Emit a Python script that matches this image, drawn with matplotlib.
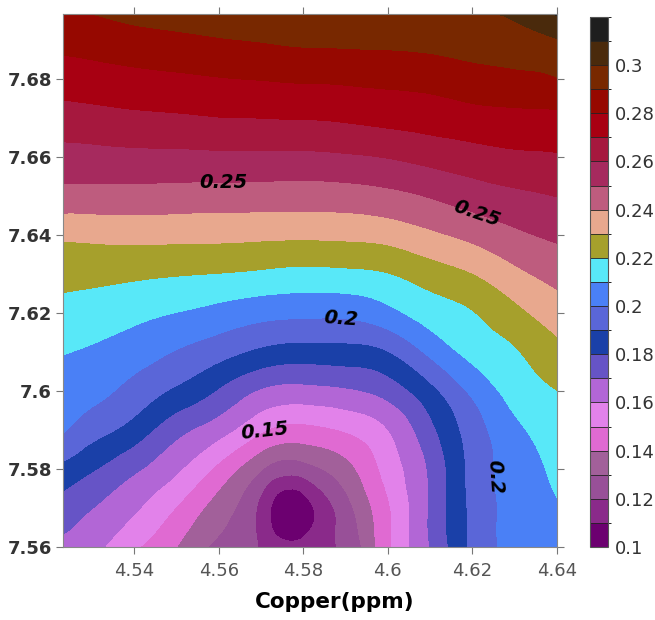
import matplotlib

matplotlib.use("Agg")
import matplotlib.pyplot as plt
import matplotlib.tri as mtri
import numpy as np
from matplotlib.colors import BoundaryNorm, ListedColormap
from matplotlib.ticker import FormatStrFormatter

#################################################
#            Data        #
#################################################

copper = [4.5232, 4.53, 4.54, 4.55, 4.56, 4.57, 4.58, 4.59, 4.60, 4.61, 4.62, 4.63, 4.64]
second = [7.56, 7.57, 7.58, 7.59, 7.60, 7.61, 7.62, 7.63, 7.64, 7.65, 7.66, 7.67, 7.68, 7.69, 7.6967]

# one row per value of `second` (bottom to top), one column per copper value
response = [
    [0.167, 0.163, 0.1516, 0.140, 0.1275, 0.119, 0.115, 0.122, 0.148, 0.170, 0.192, 0.2025, 0.205],
    [0.1758, 0.1702, 0.1615, 0.1495, 0.1352, 0.117, 0.1045, 0.1259, 0.1486, 0.171, 0.1923, 0.2032, 0.209],
    [0.187, 0.181, 0.1717, 0.1616, 0.1473, 0.1306, 0.1254, 0.1363, 0.1537, 0.1715, 0.1931, 0.2039, 0.2126],
    [0.2009, 0.1941, 0.1856, 0.1732, 0.1641, 0.1515, 0.1468, 0.1508, 0.1598, 0.1771, 0.1947, 0.2075, 0.2163],
    [0.2056, 0.203, 0.1964, 0.1881, 0.179, 0.1688, 0.1665, 0.1685, 0.174, 0.1868, 0.2021, 0.2138, 0.2199],
    [0.2105, 0.2088, 0.2047, 0.1994, 0.1938, 0.1878, 0.1855, 0.1861, 0.1896, 0.2023, 0.2129, 0.2191, 0.2269],
    [0.2165, 0.2153, 0.2127, 0.2098, 0.2066, 0.2033, 0.2021, 0.2023, 0.2069, 0.2145, 0.2195, 0.2271, 0.2349],
    [0.2232, 0.2227, 0.2217, 0.2206, 0.2197, 0.2183, 0.217, 0.2176, 0.2196, 0.2248, 0.2297, 0.2374, 0.2434],
    [0.232, 0.2325, 0.2331, 0.2328, 0.2326, 0.232, 0.2317, 0.2321, 0.2337, 0.2381, 0.2427, 0.2481, 0.2517],
    [0.2463, 0.2462, 0.2461, 0.2457, 0.2455, 0.2452, 0.245, 0.2455, 0.2473, 0.2506, 0.2547, 0.2578, 0.2602],
    [0.2565, 0.2568, 0.2574, 0.2575, 0.2579, 0.2578, 0.2578, 0.2587, 0.2604, 0.2633, 0.2659, 0.2681, 0.2691],
    [0.2657, 0.2665, 0.2678, 0.2686, 0.2697, 0.27, 0.2705, 0.2713, 0.2729, 0.2743, 0.2763, 0.2773, 0.2776],
    [0.2747, 0.2757, 0.2772, 0.2783, 0.2795, 0.2803, 0.2811, 0.2816, 0.2824, 0.2835, 0.286, 0.2875, 0.2895],
    [0.2833, 0.2843, 0.2864, 0.2878, 0.2893, 0.2905, 0.2919, 0.2922, 0.2926, 0.2933, 0.2947, 0.2961, 0.2995],
    [0.289, 0.29, 0.2926, 0.2941, 0.2958, 0.2969, 0.298, 0.2985, 0.2989, 0.2988, 0.2995, 0.3014, 0.311],
]

# the minimum of the surface (centre of the dark purple spot)
min_copper = 4.5776
min_second = 7.5695
min_value = 0.101

levels = [0.10, 0.11, 0.12, 0.13, 0.14, 0.15, 0.16, 0.17, 0.18, 0.19, 0.20, 0.21,
          0.22, 0.23, 0.24, 0.25, 0.26, 0.27, 0.28, 0.29, 0.30, 0.31, 0.32]
band_colors = [
    "#6c0070", "#8a2a8a", "#985098", "#a2609a", "#e06ad2", "#e282ea", "#b266d6",
    "#6654c6", "#1a40a8", "#5a66d8", "#4a80f6", "#58e8f8", "#a6a02c", "#e8a88e",
    "#be5c7e", "#a62a5e", "#a6183e", "#a80012", "#960800", "#782800", "#4a2a0c",
    "#1e1e1e",
]
cbar_ticks = [0.1, 0.12, 0.14, 0.16, 0.18, 0.2, 0.22, 0.24, 0.26, 0.28, 0.3]
x_ticks = [4.54, 4.56, 4.58, 4.6, 4.62, 4.64]
y_ticks = [7.56, 7.58, 7.6, 7.62, 7.64, 7.66, 7.68]

label_levels = [0.15, 0.2, 0.25]
label_spots = [(4.5611, 7.6533), (4.6207, 7.6444), (4.5888, 7.6169),
               (4.6259, 7.5779), (4.5705, 7.5908)]

#################################################
#            Plot                               #
#################################################

X, Y = np.meshgrid(copper, second)
px = np.append(X.ravel(), min_copper)
py = np.append(Y.ravel(), min_second)
pz = np.append(np.array(response).ravel(), min_value)

tri = mtri.Triangulation(px, py)
refiner = mtri.UniformTriRefiner(tri)
tri_f, z_f = refiner.refine_field(pz, subdiv=3)
z_f = np.clip(z_f, levels[0] + 1e-4, levels[-1] - 1e-4)

cmap = ListedColormap(band_colors)
norm = BoundaryNorm(levels, cmap.N)

fig = plt.figure(figsize=(6.55, 6.2), dpi=100)
ax = fig.add_axes([0.0962, 0.1177, 0.7542, 0.8597])

cf = ax.tricontourf(tri_f, z_f, levels=levels, cmap=cmap, norm=norm)
cs = ax.tricontour(tri_f, z_f, levels=label_levels, colors="none", linewidths=0)
texts = ax.clabel(cs, manual=label_spots, inline=False, fmt="%g",
                  fontsize=14, colors="k")
for t in texts:
    t.set_fontweight("bold")
    t.set_fontstyle("italic")
    if t.get_text() == "0.15":
        t.set_rotation(6)
    elif t.get_text() == "0.2" and abs(t.get_rotation()) < 45:
        t.set_rotation(-12)

ax.set_xlim(copper[0], copper[-1])
ax.set_ylim(second[0], second[-1])
ax.set_xticks(x_ticks)
ax.set_yticks(y_ticks)
ax.xaxis.set_major_formatter(FormatStrFormatter("%g"))
ax.yaxis.set_major_formatter(FormatStrFormatter("%g"))
ax.tick_params(direction="out", length=5, width=0.8, color="#777777",
               top=True, right=True, labelsize=13)
ax.tick_params(axis="x", labelcolor="#555555", pad=6)
ax.tick_params(axis="y", labelcolor="#333333", pad=3)
for lab in ax.get_yticklabels():
    lab.set_fontweight("bold")
for sp in ax.spines.values():
    sp.set_color("#888888")
    sp.set_linewidth(0.8)

ax.set_xlabel("Copper(ppm)", fontsize=15.5, fontweight="heavy")
ax.xaxis.set_label_coords(0.55, -0.085)

cax = fig.add_axes([0.9008, 0.1177, 0.0275, 0.855])
cb = fig.colorbar(cf, cax=cax, ticks=cbar_ticks, drawedges=True)
cb.ax.yaxis.set_major_formatter(FormatStrFormatter("%g"))
cb.ax.tick_params(length=0, labelsize=13, labelcolor="#333333", pad=5)
cb.outline.set_edgecolor("#555555")
cb.outline.set_linewidth(0.8)
cb.dividers.set_color("#222222")
cb.dividers.set_linewidth(0.6)

fig.savefig("out.png", dpi=100)
